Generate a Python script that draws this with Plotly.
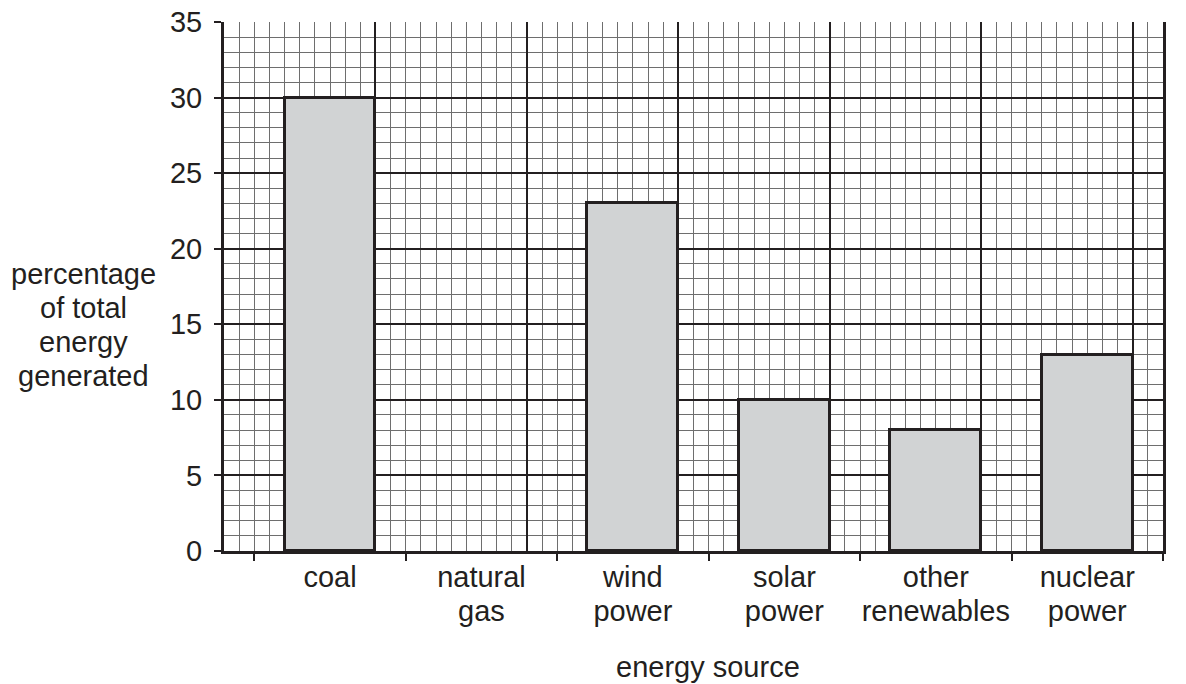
import plotly.graph_objects as go

# ---- data ----
categories = ["coal", "natural<br>gas", "wind<br>power", "solar<br>power",
              "other<br>renewables", "nuclear<br>power"]
percentages = [30, None, 23, 10, 8, 13]   # natural gas bar not drawn
cat_centres = [7, 17, 27, 37, 47, 57]       # grid units along x
cat_bounds = [2, 12, 22, 32, 42, 52, 62]
y_ticks = [0, 5, 10, 15, 20, 25, 30, 35]
y_title_lines = ["percentage", "of total", "energy", "generated"]
x_title = "energy source"

X_RANGE = [0, 62]
Y_RANGE = [0, 35]
INK = "#231f20"
FONT = dict(family="Liberation Sans, Arial, sans-serif", size=29, color=INK)

line1 = [c.split("<br>")[0] for c in categories]
line2 = [c.split("<br>")[1] if "<br>" in c else "" for c in categories]

fig = go.Figure()

for xa in ["x", "x2", "x4"]:
    fig.add_trace(go.Scatter(x=[None], y=[None], xaxis=xa, yaxis="y",
                             showlegend=False, hoverinfo="skip"))
# bars
fig.add_trace(go.Bar(
    x=cat_centres, y=percentages, width=6, xaxis="x3", yaxis="y",
    marker=dict(color="#d1d3d4", line=dict(color=INK, width=3)),
    showlegend=False,
))

GRID_MINOR = dict(tick0=0, dtick=1, showgrid=True, gridcolor="#6e6e6e", gridwidth=1.4)

PLOT_H = 529
annots = []
for i, t in enumerate(y_title_lines):
    rel = 302.75 + (i - 1.5) * 34       # pixels below plot top
    annots.append(dict(text=t, xref="paper", yref="paper",
                       x=-141 / 939, y=1 - rel / PLOT_H,
                       xanchor="center", yanchor="middle", showarrow=False,
                       font=FONT))
annots.append(dict(text=x_title, xref="paper", yref="paper",
                   x=(708 - 224) / 939, y=-116 / PLOT_H,
                   xanchor="center", yanchor="middle", showarrow=False,
                   font=FONT))

fig.update_layout(
    width=1186, height=684,
    margin=dict(l=216, r=31, t=14, b=141),
    paper_bgcolor="white", plot_bgcolor="white",
    font=FONT,
    bargap=0,
    xaxis=dict(
        range=X_RANGE, tickmode="linear", tick0=0, dtick=10,
        showgrid=True, gridcolor=INK, gridwidth=2,
        minor=GRID_MINOR, automargin=False,
        showticklabels=False, ticks="", zeroline=False,
        showline=True, linecolor=INK, linewidth=3,
    ),
    xaxis2=dict(
        range=X_RANGE, overlaying="x", anchor="y", side="bottom",
        tickmode="array", tickvals=cat_bounds, ticks="outside",
        ticklen=9, tickwidth=2, tickcolor=INK, automargin=False,
        showticklabels=False, showgrid=False, zeroline=False,
    ),
    xaxis3=dict(
        range=X_RANGE, overlaying="x", anchor="y", side="bottom",
        tickmode="array", tickvals=cat_centres, ticktext=line1,
        ticks="", showgrid=False, zeroline=False, ticklabelstandoff=6,
        tickfont=FONT, automargin=False,
    ),
    xaxis4=dict(
        range=X_RANGE, overlaying="x", anchor="y", side="bottom",
        tickmode="array", tickvals=cat_centres, ticktext=line2,
        ticks="", showgrid=False, zeroline=False, ticklabelstandoff=40,
        tickfont=FONT, automargin=False,
    ),
    yaxis=dict(
        range=Y_RANGE, tickmode="array", tickvals=y_ticks,
        showgrid=True, gridcolor=INK, gridwidth=2,
        minor=GRID_MINOR, automargin=False,
        ticks="outside", ticklen=7, tickwidth=2, tickcolor=INK,
        tickfont=FONT, zeroline=False, ticklabeloverflow="allow",
        showline=True, linecolor=INK, linewidth=3, mirror=True,
        ticklabelstandoff=6,
    ),
    annotations=annots,
)

fig.write_html("out.html")
